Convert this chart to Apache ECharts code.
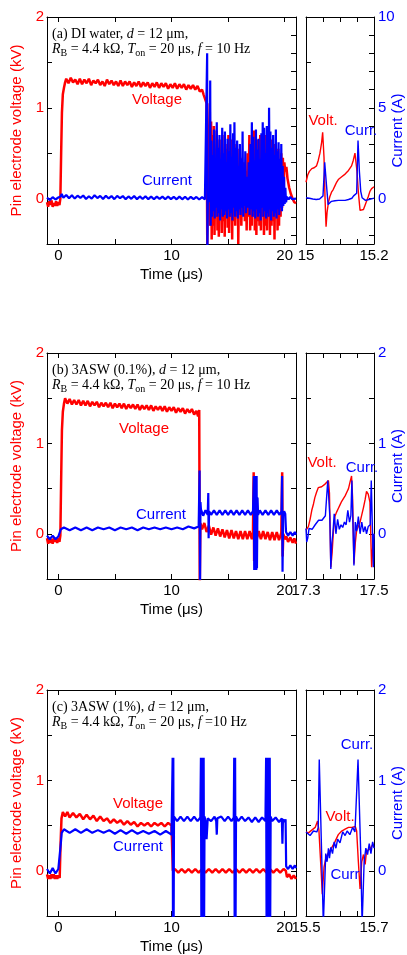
<!DOCTYPE html>
<html><head><meta charset="utf-8">
<script src="https://cdn.jsdelivr.net/npm/echarts@6/dist/echarts.min.js"></script>
<style>html,body{margin:0;padding:0;background:#fff}#c{width:407px;height:955px}</style>
</head><body><div id="c"></div>
<script>
// ---------------- DATA ----------------
const mainTimeTicks = [0, 5, 10, 15, 20];
const mainTimeLabels = [0, 10, 20];
const voltTicks = [-0.5, 0, 0.5, 1, 1.5, 2];
const voltLabels = [0, 1, 2];
const curTicksA = [-2, -1, 0, 1, 2, 3, 4, 5, 6, 7, 8, 9, 10];
const curLabelsA = [0, 5, 10];
const curTicksBC = [-0.5, 0, 0.5, 1, 1.5, 2];
const curLabelsBC = [0, 1, 2];
const zoomTicksA = [15, 15.05, 15.1, 15.15, 15.2];
const zoomLabelsA = [15, 15.2];
const zoomTicksB = [17.3, 17.35, 17.4, 17.45, 17.5];
const zoomLabelsB = [17.3, 17.5];
const zoomTicksC = [15.5, 15.55, 15.6, 15.65, 15.7];
const zoomLabelsC = [15.5, 15.7];

// Panel (a) DI water — time (us), voltage (kV)
const aMainV = [[-1,-0.04],[-0.9,-0.09],[-0.8,-0.03],[-0.7,-0.07],[-0.6,-0.02],[-0.5,-0.09],[-0.4,-0.05],[-0.3,-0.08],[-0.2,-0.03],[-0.1,-0.08],[0,-0.04],[0.1,-0.07],[0.18,0.0],
[0.25,0.5],[0.32,0.95],[0.4,1.15],[0.5,1.22],[0.6,1.28],
[0.7,1.32],[0.9,1.27],[1.1,1.33],[1.3,1.28],[1.5,1.31],[1.7,1.26],[1.9,1.32],[2.1,1.26],[2.3,1.31],[2.5,1.27],[2.7,1.32],[2.9,1.25],[3.1,1.3],[3.3,1.27],[3.5,1.31],[3.7,1.25],[3.9,1.29],[4.1,1.24],[4.3,1.31],[4.5,1.26],[4.7,1.3],[4.9,1.25],[5.1,1.29],[5.3,1.24],[5.5,1.3],[5.7,1.24],[5.9,1.29],[6.1,1.25],[6.3,1.29],[6.5,1.23],[6.7,1.28],[6.9,1.24],[7.1,1.29],[7.3,1.23],[7.5,1.28],[7.7,1.24],[7.9,1.28],[8.1,1.22],[8.3,1.27],[8.5,1.23],[8.7,1.28],[8.9,1.22],[9.1,1.27],[9.3,1.23],[9.5,1.27],[9.7,1.21],[9.9,1.26],[10.1,1.22],[10.3,1.27],[10.5,1.21],[10.7,1.26],[10.9,1.22],[11.1,1.26],[11.3,1.2],[11.5,1.25],[11.7,1.21],[11.9,1.25],[12.1,1.2],[12.3,1.24],[12.5,1.18],[12.7,1.2],[12.85,1.14],[13.0,1.12],[13.1,1.05],
[13.16,-0.5],[13.25,0.3],[13.38,1.05],[13.42,-0.3],[13.5,0.85],[13.55,-0.45],[13.62,0.7],[13.68,-0.3],[13.75,0.8],[13.8,-0.4],[13.88,0.55],[13.93,-0.2],[14.0,0.75],[14.06,-0.35],[14.12,0.45],[14.18,-0.42],[14.25,0.65],[14.3,-0.15],[14.38,0.5],[14.44,-0.38],[14.5,0.7],[14.56,-0.25],[14.63,0.45],[14.7,-0.42],[14.77,0.6],[14.83,-0.2],[14.9,0.55],[14.96,-0.32],[15.03,0.7],[15.09,-0.38],[15.16,0.4],[15.22,-0.2],[15.3,0.65],[15.36,-0.45],[15.43,0.5],[15.5,-0.25],[15.57,0.6],[15.63,-0.3],[15.7,0.35],[15.77,-0.2],[15.84,0.55],[15.9,-0.5],[15.97,0.3],[16.04,-0.15],[16.1,0.45],[16.17,-0.3],[16.25,0.25],[16.33,-0.1],[16.4,0.4],[16.48,-0.25],[16.56,0.3],[16.64,-0.35],[16.72,0.5],[16.8,-0.2],[16.88,0.7],[16.95,-0.35],[17.02,0.55],[17.09,-0.3],[17.16,0.6],[17.22,-0.2],[17.3,0.75],[17.36,-0.35],[17.43,0.5],[17.5,-0.4],[17.57,0.65],[17.63,-0.25],[17.7,0.55],[17.77,-0.3],[17.84,0.7],[17.9,-0.35],[17.97,0.6],[18.04,-0.2],[18.1,0.65],[18.17,-0.4],[18.24,0.55],[18.3,-0.3],[18.37,0.7],[18.44,-0.35],[18.5,0.6],[18.57,-0.2],[18.64,0.5],[18.7,-0.4],[18.77,0.65],[18.84,-0.3],[18.9,0.55],[18.97,-0.25],[19.04,0.6],[19.1,-0.45],[19.17,0.5],[19.24,-0.2],[19.3,0.45],[19.37,-0.35],[19.44,0.55],[19.5,-0.3],[19.57,0.4],[19.64,-0.2],[19.7,0.5],[19.77,-0.1],[19.84,0.45],[19.9,0.0],[19.97,0.4],[20.05,0.3],[20.15,0.35],[20.25,0.22],[20.4,0.12],[20.55,0.05],[20.7,0.0],[20.85,-0.04],[21,-0.05]];
// current (A)
const aMainI = [[-1,0.05],[-0.75,-0.08],[-0.5,0.08],[-0.25,-0.05],[0,0.06],[0.2,0.12],[0.3,0.25],[0.45,0.05],[0.7,0.2],[0.95,0.02],[1.2,0.18],[1.45,0.0],[1.7,0.16],[1.95,0.04],[2.2,0.17],[2.45,-0.02],[2.7,0.13],[2.95,0.0],[3.2,0.18],[3.45,0.03],[3.7,0.15],[3.95,-0.02],[4.2,0.16],[4.45,0.01],[4.7,0.14],[4.95,-0.03],[5.2,0.15],[5.45,0.02],[5.7,0.14],[5.95,-0.03],[6.2,0.12],[6.45,-0.01],[6.7,0.14],[6.95,-0.03],[7.2,0.12],[7.45,-0.02],[7.7,0.13],[7.95,-0.03],[8.2,0.12],[8.45,-0.04],[8.7,0.11],[8.95,-0.02],[9.2,0.11],[9.45,-0.04],[9.7,0.12],[9.95,-0.03],[10.2,0.1],[10.45,-0.04],[10.7,0.11],[10.95,-0.04],[11.2,0.1],[11.45,-0.05],[11.7,0.1],[11.95,-0.03],[12.2,0.09],[12.45,-0.05],[12.7,0.08],[12.95,-0.05],[13.1,0.05],
[13.15,8.0],[13.17,-3],[13.22,0.3],[13.3,-0.2],[13.36,0.2],[13.42,6.5],[13.46,-1.5],
[13.52,3.2],[13.58,-1.0],[13.64,2.4],[13.7,-0.7],[13.76,3.8],[13.82,-1.1],[13.88,2.0],[13.94,-0.5],[14.0,4.2],[14.06,-1.0],[14.12,2.8],[14.18,-0.8],[14.24,3.5],[14.3,-1.2],[14.36,2.2],[14.42,-0.6],[14.48,3.9],[14.54,-1.0],[14.6,2.5],[14.66,-0.9],[14.72,3.7],[14.78,-0.7],[14.84,2.0],[14.9,-1.1],[14.96,3.3],[15.02,-0.6],[15.08,2.6],[15.14,-1.0],[15.2,4.1],[15.26,-0.8],[15.32,2.3],[15.38,-1.2],[15.44,3.6],[15.5,-0.5],[15.56,4.2],[15.62,-1.0],[15.68,2.8],[15.74,-0.7],[15.8,3.2],[15.86,-1.1],[15.92,1.8],[15.98,-0.6],[16.04,3.0],[16.1,-0.9],[16.16,2.2],[16.22,-0.5],[16.28,3.7],[16.34,-1.0],[16.4,1.5],[16.46,-0.4],[16.52,2.6],[16.58,-0.8],[16.66,1.2],[16.74,-0.5],[16.82,2.0],[16.9,-0.9],[16.98,3.0],[17.04,-0.6],[17.1,4.2],[17.16,-1.0],[17.22,3.4],[17.28,-0.7],[17.34,2.1],[17.4,-1.1],[17.46,3.8],[17.52,-0.6],[17.58,2.7],[17.64,-1.0],[17.7,3.3],[17.76,-0.8],[17.82,2.2],[17.88,-1.2],[17.94,3.6],[18.0,-0.5],[18.06,4.2],[18.12,-1.0],[18.18,3.9],[18.24,-0.7],[18.3,2.5],[18.36,-1.1],[18.42,4.0],[18.48,-0.8],[18.54,3.2],[18.58,-1.0],[18.62,5.0],[18.68,-0.6],[18.74,3.7],[18.8,-1.2],[18.86,2.8],[18.92,-0.7],[18.98,3.5],[19.04,-1.0],[19.1,2.4],[19.16,-0.8],[19.22,3.8],[19.28,-1.1],[19.34,2.6],[19.4,-0.6],[19.46,3.1],[19.52,-0.9],[19.58,2.2],[19.64,-0.5],[19.7,3.0],[19.76,-0.7],[19.82,1.8],[19.88,-0.4],[19.94,1.2],[20.0,-0.3],[20.06,0.6],[20.12,-0.2],[20.2,0.1],[20.35,-0.05],[20.5,0.1],[20.65,-0.03],[20.8,0.08],[21,0.0]];
const aZoomV = [[15.0,0.18],[15.005,0.26],[15.01,0.3],[15.017,0.33],[15.024,0.34],[15.031,0.36],[15.036,0.42],[15.041,0.5],[15.046,0.62],[15.049,0.73],[15.053,0.45],[15.056,0.0],[15.059,-0.31],[15.062,-0.15],[15.066,-0.04],[15.07,0.02],[15.075,0.07],[15.08,0.1],[15.085,0.14],[15.09,0.18],[15.095,0.21],[15.1,0.23],[15.105,0.24],[15.11,0.25],[15.115,0.27],[15.12,0.29],[15.125,0.31],[15.129,0.32],[15.134,0.36],[15.139,0.42],[15.144,0.5],[15.147,0.51],[15.15,0.3],[15.154,0.07],[15.159,-0.13],[15.164,-0.13],[15.169,-0.12],[15.174,-0.07],[15.178,-0.03],[15.183,0.02],[15.188,0.08],[15.193,0.11],[15.2,0.13]];
const aZoomI = [[15.0,0.05],[15.005,0.1],[15.01,0.02],[15.015,0.08],[15.02,-0.02],[15.025,0.05],[15.03,-0.05],[15.035,0.03],[15.04,-0.02],[15.045,0.05],[15.05,0.15],[15.055,2.0],[15.06,0.8],[15.065,-0.33],[15.07,-0.25],[15.075,-0.15],[15.08,-0.2],[15.085,-0.12],[15.09,-0.18],[15.095,-0.1],[15.1,-0.16],[15.105,-0.1],[15.11,-0.17],[15.115,-0.1],[15.12,-0.14],[15.125,-0.05],[15.13,0.05],[15.135,0.02],[15.14,0.15],[15.145,0.1],[15.149,0.3],[15.153,3.2],[15.157,1.5],[15.161,0.4],[15.165,0.05],[15.17,-0.05],[15.175,-0.1],[15.18,0.0],[15.185,-0.05],[15.19,0.05],[15.195,0.0],[15.2,0.03]];

// Panel (b) 3ASW 0.1%
const bMainV = [[-1,-0.05],[-0.9,-0.11],[-0.8,-0.04],[-0.7,-0.1],[-0.6,-0.06],[-0.5,-0.11],[-0.4,-0.04],[-0.3,-0.09],[-0.2,-0.05],[-0.1,-0.1],[0,-0.05],[0.1,-0.09],[0.18,-0.02],
[0.25,0.6],[0.32,1.15],[0.4,1.35],[0.5,1.44],
[0.6,1.5],[0.8,1.44],[1.0,1.49],[1.2,1.43],[1.4,1.48],[1.6,1.43],[1.8,1.48],[2.0,1.42],[2.2,1.47],[2.4,1.42],[2.6,1.47],[2.8,1.41],[3.0,1.46],[3.2,1.42],[3.4,1.46],[3.6,1.4],[3.8,1.45],[4.0,1.41],[4.2,1.45],[4.4,1.4],[4.6,1.45],[4.8,1.39],[5.0,1.44],[5.2,1.4],[5.4,1.44],[5.6,1.39],[5.8,1.44],[6.0,1.38],[6.2,1.43],[6.4,1.39],[6.6,1.43],[6.8,1.38],[7.0,1.43],[7.2,1.37],[7.4,1.42],[7.6,1.38],[7.8,1.42],[8.0,1.37],[8.2,1.42],[8.4,1.36],[8.6,1.41],[8.8,1.37],[9.0,1.41],[9.2,1.36],[9.4,1.41],[9.6,1.35],[9.8,1.4],[10.0,1.36],[10.2,1.4],[10.4,1.34],[10.6,1.39],[10.8,1.35],[11.0,1.39],[11.2,1.33],[11.4,1.38],[11.6,1.34],[11.8,1.38],[12.0,1.32],[12.2,1.36],[12.35,1.3],[12.45,1.37],
[12.5,-0.6],[12.55,0.12],
[12.7,0.05],[12.9,0.12],[13.1,0.02],[13.3,0.09],[13.5,-0.01],[13.7,0.07],[13.9,-0.02],[14.1,0.06],[14.3,-0.03],[14.5,0.05],[14.7,-0.04],[14.9,0.04],[15.1,-0.05],[15.3,0.04],[15.5,-0.05],[15.7,0.03],[15.9,-0.06],[16.1,0.03],[16.3,-0.06],[16.5,0.03],[16.7,-0.06],[16.9,0.03],[17.1,-0.06],[17.2,0.02],
[17.26,0.68],[17.3,-0.3],[17.34,0.55],[17.38,-0.35],[17.42,0.64],[17.46,-0.3],[17.5,0.4],[17.55,-0.05],
[17.7,0.03],[17.9,-0.06],[18.1,0.03],[18.3,-0.06],[18.5,0.02],[18.7,-0.07],[18.9,0.02],[19.1,-0.07],[19.3,0.02],[19.5,-0.07],[19.7,0.01],[19.78,0.68],[19.82,-0.25],[19.88,0.0],[20.0,-0.06],[20.15,-0.03],[20.3,-0.09],[20.5,-0.04],[20.7,-0.1],[20.85,-0.05],[21,-0.11]];
const bMainI = [[-1,-0.02],[-0.75,-0.06],[-0.5,-0.02],[-0.25,-0.06],[0,-0.03],[0.15,-0.04],[0.22,0.05],
[0.5,0.07],[1,0.04],[1.5,0.07],[2,0.04],[2.5,0.07],[3,0.04],[3.5,0.07],[4,0.05],[4.5,0.07],[5,0.04],[5.5,0.07],[6,0.05],[6.5,0.07],[7,0.04],[7.5,0.07],[8,0.05],[8.5,0.07],[9,0.05],[9.5,0.07],[10,0.05],[10.5,0.07],[11,0.05],[11.5,0.08],[12,0.06],[12.4,0.08],
[12.48,0.7],[12.52,-0.6],[12.56,0.35],[12.6,0.27],
[12.8,0.2],[13.0,0.26],[13.2,0.21],[13.25,0.45],[13.28,-0.05],[13.32,0.25],[13.5,0.21],[13.75,0.26],[14,0.21],[14.25,0.26],[14.5,0.21],[14.75,0.26],[15,0.21],[15.25,0.26],[15.5,0.21],[15.75,0.26],[16,0.21],[16.25,0.26],[16.5,0.21],[16.75,0.26],[17,0.21],[17.2,0.25],
[17.28,0.64],[17.31,-0.4],[17.34,0.64],[17.37,-0.4],[17.4,0.64],[17.43,-0.4],[17.46,0.64],[17.49,-0.4],[17.52,0.64],[17.55,-0.38],[17.6,0.4],[17.65,0.21],
[17.8,0.26],[18.05,0.21],[18.3,0.26],[18.55,0.21],[18.8,0.26],[19.05,0.21],[19.3,0.26],[19.55,0.21],[19.72,0.25],[19.77,0.64],[19.81,-0.42],[19.86,0.2],[19.95,0.25],[20.05,0.22],[20.12,0.02],[20.3,-0.02],[20.5,0.02],[20.7,-0.02],[20.9,0.02],[21,-0.01]];
const bZoomV = [[17.3,0.04],[17.302,0.05],[17.307,0.08],[17.312,0.16],[17.317,0.26],[17.322,0.33],[17.326,0.4],[17.331,0.46],[17.336,0.51],[17.341,0.52],[17.346,0.52],[17.351,0.54],[17.356,0.55],[17.361,0.57],[17.366,0.59],[17.369,0.45],[17.373,-0.37],[17.377,-0.2],[17.381,0.05],[17.385,0.19],[17.39,0.24],[17.395,0.28],[17.4,0.32],[17.405,0.36],[17.41,0.39],[17.415,0.42],[17.42,0.46],[17.425,0.5],[17.43,0.58],[17.434,0.64],[17.437,0.4],[17.441,-0.33],[17.445,-0.1],[17.449,0.04],[17.454,0.08],[17.459,0.13],[17.464,0.21],[17.469,0.29],[17.474,0.38],[17.478,0.47],[17.483,0.44],[17.488,0.35],[17.493,-0.37],[17.497,-0.1],[17.5,0.0]];
const bZoomI = [[17.3,0.06],[17.302,-0.09],[17.305,-0.05],[17.309,0.06],[17.313,0.04],[17.318,0.05],[17.322,0.03],[17.327,0.1],[17.332,0.08],[17.337,0.15],[17.342,0.14],[17.347,0.15],[17.352,0.17],[17.357,0.2],[17.361,0.18],[17.364,0.59],[17.367,0.59],[17.37,0.2],[17.373,-0.39],[17.376,-0.1],[17.379,0.0],[17.383,0.22],[17.388,0.0],[17.393,0.16],[17.398,0.05],[17.403,0.1],[17.408,0.07],[17.413,0.13],[17.418,0.1],[17.423,0.26],[17.428,0.13],[17.432,0.2],[17.435,0.59],[17.438,0.59],[17.441,-0.35],[17.445,0.13],[17.449,0.03],[17.454,0.19],[17.459,0.0],[17.464,0.13],[17.469,0.02],[17.474,0.08],[17.478,0.0],[17.483,0.08],[17.489,0.1],[17.492,0.59],[17.495,0.59],[17.498,-0.37],[17.5,0.0]];

// Panel (c) 3ASW 1%
const cMainV = [[-1,-0.04],[-0.9,-0.09],[-0.8,-0.05],[-0.7,-0.09],[-0.6,-0.04],[-0.5,-0.08],[-0.4,-0.04],[-0.3,-0.09],[-0.2,-0.05],[-0.1,-0.09],[0,-0.05],[0.12,-0.08],[0.2,0.3],[0.28,0.58],
[0.4,0.65],[0.6,0.6],[0.8,0.65],[1.0,0.59],[1.3,0.64],[1.6,0.59],[1.9,0.63],[2.2,0.57],[2.5,0.62],[2.8,0.57],[3.1,0.61],[3.4,0.55],[3.7,0.6],[4.0,0.55],[4.3,0.58],[4.6,0.53],[4.9,0.57],[5.2,0.53],[5.5,0.56],[5.8,0.51],[6.1,0.55],[6.4,0.51],[6.7,0.54],[7.0,0.49],[7.3,0.53],[7.6,0.5],[7.9,0.53],[8.2,0.49],[8.5,0.53],[8.8,0.5],[9.1,0.53],[9.4,0.49],[9.7,0.53],[10.0,0.5],[10.08,0.52],
[10.12,0.0],[10.3,0.02],[10.6,-0.02],[10.9,0.02],[11.2,-0.02],[11.5,0.02],[11.8,-0.02],[12.1,0.02],[12.4,-0.02],[12.7,0.02],[13.0,-0.02],[13.3,0.02],[13.6,-0.02],[13.9,0.02],[14.2,-0.02],[14.5,0.02],[14.8,-0.02],[15.1,0.02],[15.4,-0.02],[15.7,0.02],[16.0,-0.02],[16.3,0.02],[16.6,-0.02],[16.9,0.02],[17.2,-0.02],[17.5,0.02],[17.8,-0.02],[18.1,0.02],[18.4,-0.02],[18.7,0.02],[19.0,-0.02],[19.3,0.02],[19.6,-0.02],[19.9,0.02],[20.1,0.0],[20.2,-0.07],[20.4,-0.04],[20.6,-0.09],[20.8,-0.05],[21,-0.09]];
const cMainI = [[-1,0.02],[-0.75,-0.03],[-0.5,0.03],[-0.25,-0.03],[0,0.02],[0.15,0.0],[0.22,0.3],[0.3,0.42],
[0.5,0.46],[1,0.42],[1.5,0.46],[2,0.42],[2.5,0.46],[3,0.42],[3.5,0.45],[4,0.42],[4.5,0.45],[5,0.41],[5.5,0.45],[6,0.41],[6.5,0.45],[7,0.41],[7.5,0.44],[8,0.41],[8.5,0.44],[9,0.4],[9.5,0.44],[10,0.4],[10.07,0.42],
[10.1,1.25],[10.13,-0.6],[10.16,1.25],[10.19,-0.6],[10.22,0.6],
[10.5,0.55],[10.8,0.6],[11.1,0.55],[11.4,0.6],[11.7,0.55],[12.0,0.6],[12.3,0.55],[12.55,0.59],
[12.6,1.25],[12.64,-0.6],[12.68,1.25],[12.72,-0.6],[12.76,1.25],[12.8,-0.6],[12.84,1.25],[12.88,-0.6],[12.92,0.6],
[13.0,0.55],[13.1,0.35],[13.2,0.58],[13.5,0.55],[13.8,0.6],[13.95,0.55],[14.0,0.4],[14.05,0.58],[14.4,0.6],[14.7,0.55],[15.0,0.6],[15.3,0.55],[15.5,0.59],
[15.54,1.25],[15.58,-0.6],[15.62,1.25],[15.66,-0.6],[15.7,0.6],
[15.9,0.55],[16.2,0.6],[16.5,0.55],[16.8,0.59],[17.1,0.54],[17.4,0.59],[17.7,0.54],[18.0,0.59],[18.3,0.55],
[18.36,1.25],[18.4,-0.6],[18.44,1.25],[18.48,-0.6],[18.52,1.25],[18.56,-0.6],[18.6,1.25],[18.64,-0.6],[18.68,1.25],[18.72,-0.6],[18.76,0.6],
[18.9,0.55],[19.2,0.59],[19.5,0.54],[19.75,0.58],[19.8,0.3],[19.85,0.57],[20.0,0.54],[20.08,0.57],[20.13,0.05],[20.3,0.02],[20.5,0.06],[20.7,0.02],[20.9,0.06],[21,0.03]];
const cZoomV = [[15.5,0.43],[15.502,0.43],[15.507,0.42],[15.512,0.44],[15.517,0.45],[15.522,0.46],[15.527,0.48],[15.532,0.49],[15.534,0.55],[15.538,0.45],[15.543,0.1],[15.548,-0.26],[15.553,0.04],[15.559,0.15],[15.566,0.2],[15.575,0.25],[15.585,0.32],[15.595,0.4],[15.605,0.44],[15.615,0.46],[15.625,0.48],[15.635,0.48],[15.645,0.49],[15.649,0.44],[15.654,0.1],[15.659,-0.2],[15.664,0.1],[15.669,0.18],[15.674,0.07],[15.678,0.22],[15.688,0.24],[15.698,0.3],[15.7,0.3]];
const cZoomI = [[15.5,0.43],[15.502,0.43],[15.512,0.39],[15.522,0.44],[15.532,0.43],[15.536,0.48],[15.539,1.23],[15.543,1.23],[15.546,0.19],[15.551,-0.6],[15.554,-0.6],[15.558,0.19],[15.562,0.1],[15.566,0.25],[15.569,0.14],[15.573,0.26],[15.578,0.19],[15.583,0.32],[15.588,0.25],[15.593,0.35],[15.6,0.31],[15.608,0.43],[15.615,0.39],[15.621,0.44],[15.629,0.4],[15.637,0.48],[15.644,0.43],[15.649,0.41],[15.653,1.23],[15.657,1.23],[15.661,0.19],[15.665,-0.6],[15.668,-0.6],[15.671,0.1],[15.676,0.25],[15.681,0.18],[15.686,0.3],[15.691,0.19],[15.696,0.32],[15.7,0.25]];

// ---------------- CHART ----------------
const RED = '#ff0000', BLUE = '#0000ff', SANS = 'Liberation Sans', SERIF = 'Liberation Serif';
const panels = [
  {top:17, h:227, mv:aMainV, mi:aMainI, zv:aZoomV, zi:aZoomI, cMin:-2.5, cMax:10, cTicks:curTicksA, cLabels:curLabelsA, mainRightTicks:curTicksA,
   zMin:15, zMax:15.2, zTicks:zoomTicksA, zLabels:zoomLabelsA,
   l1:'(a) DI water, {i|d} = 12 μm,', l2:'{i|R}{s|B} = 4.4 kΩ, {i|T}{s|on} = 20 μs, {i|f} = 10 Hz',
   labels:[['Voltage',157,100,RED],['Current',167,181,BLUE],['Volt.',323,121,RED],['Curr.',361,131,BLUE]]},
  {top:353, h:226, mv:bMainV, mi:bMainI, zv:bZoomV, zi:bZoomI, cMin:-0.5, cMax:2, cTicks:curTicksBC, cLabels:curLabelsBC, mainRightTicks:curTicksBC,
   zMin:17.3, zMax:17.5, zTicks:zoomTicksB, zLabels:zoomLabelsB,
   l1:'(b) 3ASW (0.1%), {i|d} = 12 μm,', l2:'{i|R}{s|B} = 4.4 kΩ, {i|T}{s|on} = 20 μs, {i|f} = 10 Hz',
   labels:[['Voltage',144,429,RED],['Current',161,515,BLUE],['Volt.',322,463,RED],['Curr.',362,468,BLUE]]},
  {top:690, h:226, mv:cMainV, mi:cMainI, zv:cZoomV, zi:cZoomI, cMin:-0.5, cMax:2, cTicks:curTicksBC, cLabels:curLabelsBC, mainRightTicks:curTicksBC,
   zMin:15.5, zMax:15.7, zTicks:zoomTicksC, zLabels:zoomLabelsC,
   l1:'(c) 3ASW (1%), {i|d} = 12 μm,', l2:'{i|R}{s|B} = 4.4 kΩ, {i|T}{s|on} = 20 μs, {i|f} =10 Hz',
   labels:[['Voltage',138,804,RED],['Current',138,847,BLUE],['Curr.',357,745,BLUE],['Volt.',340,817,RED],['Curr',345,875,BLUE]]}
];

const grids = [], xAxes = [], yAxes = [], series = [], graphics = [];
const MAIN_L = 47, MAIN_W = 249, ZOOM_L = 306, ZOOM_W = 68;

function axisCommon(showLabel, tickVals, labelVals, color, margin) {
  return {
    axisLine: {show:true, onZero:false, lineStyle:{color:'#000', width:1}},
    axisTick: {show:true, inside:true, length:5, customValues:tickVals, lineStyle:{color:'#000', width:1}},
    axisLabel: {show:showLabel, customValues:labelVals, color:color, fontSize:15, fontFamily:SANS, margin:margin,
                formatter: v => String(Math.round(v*100)/100)},
    splitLine: {show:false}
  };
}
function xAx(gi, pos, min, max, ticks, labels) {
  return Object.assign({type:'value', gridIndex:gi, position:pos, min, max}, axisCommon(pos==='bottom', ticks, labels, '#000', 4));
}
function yAx(gi, pos, min, max, ticks, labels, show, color) {
  return Object.assign({type:'value', gridIndex:gi, position:pos, min, max}, axisCommon(show, ticks, labels, color, pos==='left'?3:4));
}

panels.forEach((p, k) => {
  const gm = grids.length;
  grids.push({left:MAIN_L, top:p.top, width:MAIN_W, height:p.h, containLabel:false});
  grids.push({left:ZOOM_L, top:p.top, width:ZOOM_W, height:p.h, containLabel:false});
  const gz = gm + 1;
  const xm = xAxes.length;
  xAxes.push(xAx(gm, 'bottom', -1, 21, mainTimeTicks, mainTimeLabels));
  xAxes.push(xAx(gm, 'top', -1, 21, mainTimeTicks, mainTimeLabels));
  const xz = xAxes.length;
  xAxes.push(xAx(gz, 'bottom', p.zMin, p.zMax, p.zTicks, p.zLabels));
  xAxes.push(xAx(gz, 'top', p.zMin, p.zMax, p.zTicks, p.zLabels));
  const yml = yAxes.length;
  yAxes.push(yAx(gm, 'left', -0.5, 2, voltTicks, voltLabels, true, RED));
  yAxes.push(yAx(gm, 'right', p.cMin, p.cMax, p.mainRightTicks, p.cLabels, false, BLUE));
  const yzl = yAxes.length;
  yAxes.push(yAx(gz, 'left', -0.5, 2, voltTicks, voltLabels, false, RED));
  yAxes.push(yAx(gz, 'right', p.cMin, p.cMax, p.cTicks, p.cLabels, true, BLUE));

  const ln = (data, xi, yi, color, w, z) => ({type:'line', data, xAxisIndex:xi, yAxisIndex:yi, showSymbol:false, symbol:'none',
      lineStyle:{color, width:w}, animation:false, silent:true, z, clip:true});
  series.push(ln(p.mv, xm, yml, RED, 2.5, 2));
  series.push(ln(p.mi, xm, yml+1, BLUE, 2.2, 3));
  series.push(ln(p.zv, xz, yzl, RED, 1.4, 2));
  series.push(ln(p.zi, xz, yzl+1, BLUE, 1.4, 3));

  const cy = p.top + p.h/2;
  graphics.push({type:'text', x:17, y:cy, rotation:Math.PI/2, style:{text:'Pin electrode voltage (kV)', fill:RED, fontSize:15, fontFamily:SANS, align:'center', verticalAlign:'middle'}});
  graphics.push({type:'text', x:398, y:cy, rotation:Math.PI/2, style:{text:'Current (A)', fill:BLUE, fontSize:15, fontFamily:SANS, align:'center', verticalAlign:'middle'}});
  graphics.push({type:'text', x:MAIN_L + MAIN_W/2, y:p.top + p.h + 31, style:{text:'Time (μs)', fill:'#000', fontSize:15, fontFamily:SANS, align:'center', verticalAlign:'middle'}});
  const rich = {i:{fontFamily:SERIF, fontSize:14, fontStyle:'italic', lineHeight:18, fill:'#000'},
                s:{fontFamily:SERIF, fontSize:10, verticalAlign:'bottom', lineHeight:12, fill:'#000'}};
  graphics.push({type:'text', x:52, y:p.top + 17, z:10, style:{text:p.l1, rich, fill:'#000', fontSize:14, fontFamily:SERIF, lineHeight:18, align:'left', verticalAlign:'middle'}});
  graphics.push({type:'text', x:52, y:p.top + 32.5, z:10, style:{text:p.l2, rich, fill:'#000', fontSize:14, fontFamily:SERIF, lineHeight:18, align:'left', verticalAlign:'middle'}});
  p.labels.forEach(([t, x, y, c]) => {
    graphics.push({type:'text', x, y, z:10, style:{text:t, fill:c, fontSize:15, fontFamily:SANS, align:'center', verticalAlign:'middle'}});
  });
});

const chart = echarts.init(document.getElementById('c'), null, {renderer:'canvas'});
chart.setOption({animation:false, backgroundColor:'#fff', grid:grids, xAxis:xAxes, yAxis:yAxes, series, graphic:graphics});
</script></body></html>
